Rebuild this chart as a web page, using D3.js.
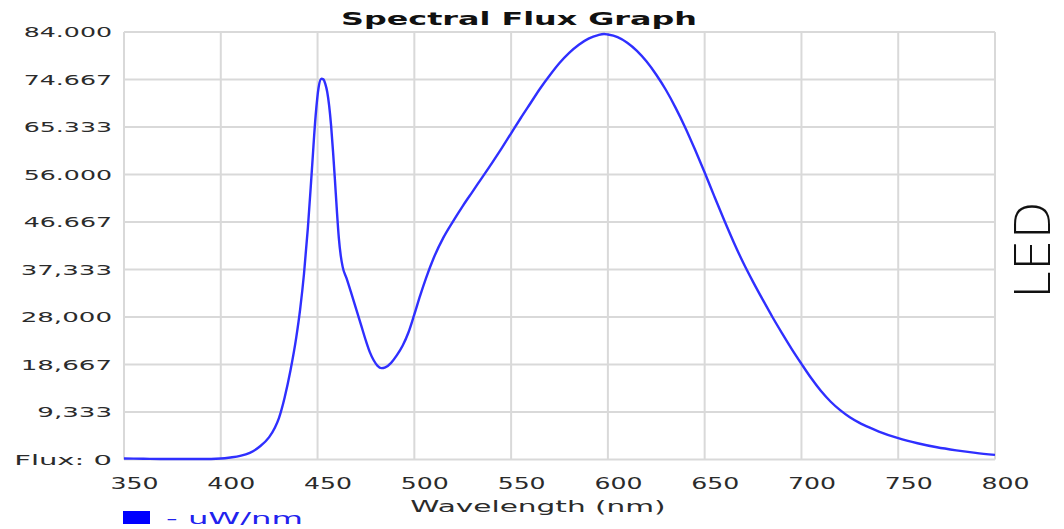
<!DOCTYPE html>
<html>
<head>
<meta charset="utf-8">
<script src="https://cdn.jsdelivr.net/npm/d3@7/dist/d3.min.js"></script>
<style>
  html, body { margin: 0; padding: 0; background: #fff; }
  svg { display: block; }
  text { font-family: "DejaVu Sans", Verdana, sans-serif; }
</style>
</head>
<body>
<svg id="chart" width="1064" height="529"></svg>
<script>
// Spectral power distribution of a white LED (blue die + phosphor)
const wavelengths = [350, 360, 370, 380, 390, 400, 405, 410, 415, 420, 425, 428, 430, 433, 436, 439, 441, 443, 445, 447,
  449, 450.5, 452, 453, 454, 455, 456, 457, 458, 459, 460, 461, 462, 463, 465, 467.5, 470, 472.5, 475, 477,
  479, 481, 483, 485, 488, 491, 494, 497, 500, 503, 506, 510, 515, 520, 525, 530, 535, 540, 545,
  550, 555, 560, 565, 570, 575, 580, 585, 590, 595, 598, 600, 605, 610, 615, 620, 625, 630, 635, 640,
  645, 650, 655, 660, 665, 670, 675, 680, 685, 690, 695, 700, 705, 710, 715, 720, 725, 730, 735, 740,
  750, 760, 770, 780, 790, 800];
const flux = [0.2, 0.15, 0.1, 0.1, 0.1, 0.2, 0.4, 0.7, 1.3, 2.5, 4.4, 6.3, 8.1, 12.2, 17.5, 24, 29.5, 36.5, 45.5, 56.5,
  67.5, 73, 74.8, 74.7, 73.8, 72.2, 69.5, 65.6, 60.5, 54.8, 48.8, 43.5, 40, 37.8, 35.6, 32.6, 29.5, 26.4, 23.3, 21.1,
  19.5, 18.4, 17.95, 18.1, 19, 20.5, 22.4, 25, 28.5, 32.2, 35.6, 39.6, 43.6, 46.8, 49.8, 52.6, 55.4, 58.2, 61.1,
  64.1, 67.1, 70, 72.9, 75.5, 77.9, 79.9, 81.5, 82.7, 83.4, 83.6, 83.5, 83, 81.9, 80.3, 78.2, 75.6, 72.6, 69.1, 65.2,
  60.9, 56.4, 51.7, 47.1, 42.7, 38.6, 34.9, 31.4, 28, 24.8, 21.7, 18.8, 16, 13.5, 11.4, 9.7, 8.3, 7.2, 6.3, 5.5,
  4.2, 3.2, 2.4, 1.8, 1.3, 0.9];

const xTicks = [350, 400, 450, 500, 550, 600, 650, 700, 750, 800];
const yTicks = [0, 9.333, 18.667, 28, 37.333, 46.667, 56, 65.333, 74.667, 84];
const yTickLabels = ["Flux: 0", "9,333", "18,667", "28,000", "37,333", "46.667", "56.000", "65.333", "74.667", "84.000"];

const titleText = "Spectral Flux Graph";
const xTitle = "Wavelength (nm)";
const legendText = "- uW/nm";
const sideLabel = "LED";

const svg = d3.select("#chart");
const plotLeft = 124, plotRight = 995, plotTop = 32, plotBottom = 459.5;

const x = d3.scaleLinear().domain([350, 800]).range([plotLeft, plotRight]);
const y = d3.scaleLinear().domain([0, 84]).range([plotBottom, plotTop]);

// stretch a text element horizontally by a factor of its natural width
function widen(node, factor) {
  const w = node.getComputedTextLength();
  d3.select(node).attr("textLength", w * factor).attr("lengthAdjust", "spacingAndGlyphs");
}

// grid
const grid = svg.append("g").attr("stroke", "#d9d9d9").attr("stroke-width", 2);
grid.selectAll("line.v").data(xTicks).join("line").attr("class", "v")
  .attr("x1", d => x(d)).attr("x2", d => x(d)).attr("y1", plotTop).attr("y2", plotBottom);
grid.selectAll("line.h").data(yTicks).join("line").attr("class", "h")
  .attr("x1", plotLeft).attr("x2", plotRight).attr("y1", d => y(d)).attr("y2", d => y(d));

// y axis labels
const yAxis = d3.axisLeft(y).tickValues(yTicks)
  .tickFormat((d, i) => yTickLabels[i]).tickSize(0).tickPadding(12);
const gy = svg.append("g").attr("transform", `translate(${plotLeft},0)`).call(yAxis);
gy.select(".domain").remove();
gy.selectAll("text")
  .attr("font-size", 14.5).attr("fill", "#2b2b2b").attr("font-family", "DejaVu Sans")
  .each(function (d, i) {
    const t = yTickLabels[i];
    widen(this, t.startsWith("Flux") ? 2.0 : (t.includes(",") ? 1.8 : 1.74));
  });

// x axis labels
const xAxis = d3.axisBottom(x).tickValues(xTicks).tickFormat(d3.format("d")).tickSize(0).tickPadding(18);
const gx = svg.append("g").attr("transform", `translate(10,${plotBottom})`).call(xAxis);
gx.select(".domain").remove();
gx.selectAll("text")
  .attr("font-size", 16).attr("fill", "#2b2b2b").attr("font-family", "DejaVu Sans")
  .each(function () { widen(this, 1.57); });

// title
svg.append("text").attr("x", 519).attr("y", 25).attr("text-anchor", "middle")
  .attr("font-size", 17).attr("font-weight", "bold").attr("fill", "#111")
  .text(titleText).each(function () { widen(this, 1.87); });

// x axis title
svg.append("text").attr("x", 538).attr("y", 512).attr("text-anchor", "middle")
  .attr("font-size", 15).attr("fill", "#2b2b2b")
  .text(xTitle).each(function () { widen(this, 1.97); });

// legend
svg.append("rect").attr("x", 123).attr("y", 511).attr("width", 27).attr("height", 13).attr("fill", "#0000ff");
svg.append("text").attr("x", 166).attr("y", 523.5)
  .attr("font-size", 15).attr("fill", "#2222ee")
  .text(legendText).each(function () { widen(this, 2.15); });

// spectrum curve
const line = d3.line()
  .x((d, i) => x(wavelengths[i]))
  .y(d => y(d))
  .curve(d3.curveMonotoneX);
svg.append("path").datum(flux)
  .attr("d", line)
  .attr("fill", "none")
  .attr("stroke", "#2f2fff")
  .attr("stroke-width", 2.4)
  .attr("stroke-linejoin", "round");

// side label
svg.append("text").attr("transform", "translate(1050,250) rotate(-90)")
  .attr("text-anchor", "middle")
  .attr("font-family", "'Open Sans', sans-serif").attr("font-weight", 300)
  .attr("font-size", 50).attr("fill", "#111")
  .text(sideLabel);
</script>
</body>
</html>
